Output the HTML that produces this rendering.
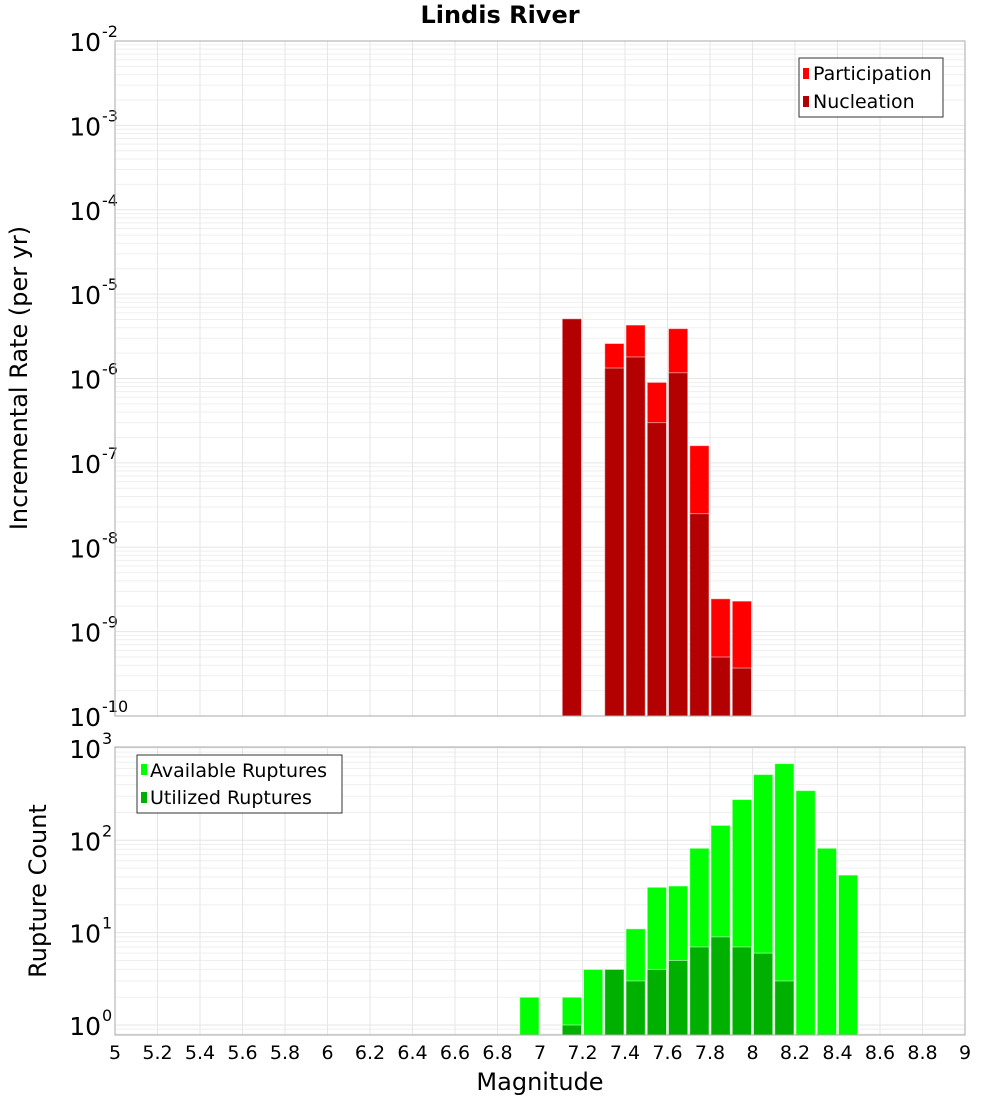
<!DOCTYPE html>
<html><head><meta charset="utf-8"><style>
body{margin:0;background:#fff;}
svg text{font-family:"DejaVu Sans","Liberation Sans",sans-serif;fill:#000;}
</style></head><body>
<svg id="c" width="1000" height="1100" xmlns="http://www.w3.org/2000/svg">
<text x="500" y="23" text-anchor="middle" font-size="24" font-weight="bold">Lindis River</text>
<g id="top"></g>
<g id="bot"></g>
<text transform="translate(27,378) rotate(-90)" text-anchor="middle" font-size="24">Incremental Rate (per yr)</text>
<text transform="translate(46,891) rotate(-90)" text-anchor="middle" font-size="24">Rupture Count</text>
<text x="540" y="1090" text-anchor="middle" font-size="24">Magnitude</text>
<g>
<rect x="799" y="58" width="144" height="59" fill="#fff" stroke="#333"/>
<rect x="803" y="68" width="6" height="11" fill="#ff0000"/>
<text x="813" y="80" font-size="19">Participation</text>
<rect x="803" y="96" width="6" height="11" fill="#b30000"/>
<text x="813" y="108" font-size="19">Nucleation</text>
</g>
<g>
<rect x="137" y="755" width="205" height="58" fill="#fff" stroke="#333"/>
<rect x="141" y="764" width="6" height="11" fill="#00ff00"/>
<text x="150" y="777" font-size="19">Available Ruptures</text>
<rect x="141" y="792" width="6" height="11" fill="#00b000"/>
<text x="150" y="804" font-size="19">Utilized Ruptures</text>
</g>
</svg>
<script>
const rateMags=[7.15,7.35,7.45,7.55,7.65,7.75,7.85,7.95];
const participation=[5.1e-6,2.6e-6,4.3e-6,9.0e-7,3.9e-6,1.6e-7,2.45e-9,2.3e-9];
const nucleation=[5.1e-6,1.33e-6,1.8e-6,3.0e-7,1.17e-6,2.5e-8,5.0e-10,3.7e-10];
const countMags=[6.95,7.15,7.25,7.35,7.45,7.55,7.65,7.75,7.85,7.95,8.05,8.15,8.25,8.35,8.45];
const available=[2,2,4,4,11,31,32,82,145,276,515,676,345,82,42];
const utilized=[0,1,0,4,3,4,5,7,9,7,6,3,0,0,0];
const xTicks=[5,5.2,5.4,5.6,5.8,6,6.2,6.4,6.6,6.8,7,7.2,7.4,7.6,7.8,8,8.2,8.4,8.6,8.8,9];
const rateExps=[-2,-3,-4,-5,-6,-7,-8,-9,-10];
const countExps=[0,1,2,3];

const NS='http://www.w3.org/2000/svg';
const X0=115,X1=965;
const xs=m=>X0+(m-5)/4*(X1-X0);
function mk(p,t,a){const e=document.createElementNS(NS,t);for(const k in a)e.setAttribute(k,a[k]);p.appendChild(e);return e;}
function panel(g,top,bot,lmin,lmax,exps,name){
  const ys=v=>bot-(Math.log10(v)-lmin)/(lmax-lmin)*(bot-top);
  for(let d=Math.floor(lmin);d<lmax;d++)for(let k=1;k<10;k++){const v=k*Math.pow(10,d);const lv=Math.log10(v);if(lv<lmin||lv>lmax)continue;
    const l=mk(g,'line',{x1:X0,x2:X1,y1:ys(v),y2:ys(v),stroke:k==1?'#e6e6e6':'#efefef','stroke-width':1});
    
    }
  xTicks.forEach(t=>{const l=mk(g,'line',{x1:xs(t),x2:xs(t),y1:top,y2:bot,stroke:'#e6e6e6'});
    
    });
  exps.forEach(e=>{const y=ys(Math.pow(10,e));
    const t=mk(g,'text',{x:101,y:y+10,'text-anchor':'end','font-size':25});t.textContent='10';
    
    
    const s=mk(g,'text',{x:102,y:y-4,'font-size':16});s.textContent=String(e);
    
    });
  return ys;
}
function bar(g,m,v,ys,bot,fill,name){
  if(!(v>0))return;const x=xs(m-0.05)+1,w=xs(m+0.05)-xs(m-0.05)-2,y=Math.max(ys(v),0);
  const r=mk(g,'rect',{x:x,y:y,width:w,height:bot-y,fill:fill,stroke:'rgba(255,255,255,0.5)','stroke-width':1});
  
  
}
const gt=document.getElementById('top'),gb=document.getElementById('bot');
const yt=panel(gt,41,716,-10,-2,rateExps,'rate');
rateMags.forEach((m,i)=>bar(gt,m,participation[i],yt,716,'#ff0000','participation-bar'));
rateMags.forEach((m,i)=>bar(gt,m,nucleation[i],yt,716,'#b30000','nucleation-bar'));
const cmin=Math.log10(0.78);
const yb=panel(gb,747,1035,cmin,3.01,countExps,'count');
countMags.forEach((m,i)=>bar(gb,m,available[i],yb,1035,'#00ff00','available-bar'));
countMags.forEach((m,i)=>bar(gb,m,utilized[i],yb,1035,'#00b000','utilized-bar'));
[[41,716],[747,1035]].forEach(p=>{const r=mk(document.getElementById('c'),'rect',{x:X0,y:p[0],width:X1-X0,height:p[1]-p[0],fill:'none',stroke:'#aaa'});
  
  });
xTicks.forEach(t=>{const e=mk(gb,'text',{x:xs(t),y:1059,'text-anchor':'middle','font-size':19});e.textContent=String(t);
  
  });
</script>
</body></html>
